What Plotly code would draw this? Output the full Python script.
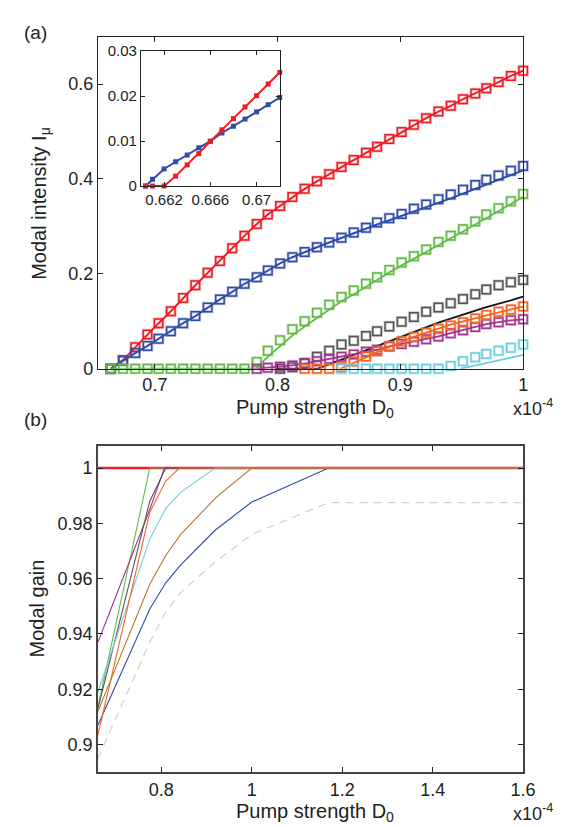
import plotly.graph_objects as go

W, H = 577, 827

# ---------------- panel (a): modal intensities ----------------
XA = [0.664, 0.674, 0.684, 0.694, 0.703, 0.713, 0.723, 0.733, 0.743, 0.753,
      0.763, 0.773, 0.783, 0.792, 0.802, 0.812, 0.822, 0.832, 0.842, 0.852,
      0.862, 0.872, 0.881, 0.891, 0.901, 0.911, 0.921, 0.931, 0.941, 0.951,
      0.961, 0.970, 0.980, 0.990, 1.000]

RED_M = [0, 0.018, 0.045, 0.072, 0.096, 0.121, 0.149, 0.176, 0.202, 0.227,
         0.254, 0.280, 0.305, 0.325, 0.343, 0.362, 0.379, 0.395, 0.410, 0.425,
         0.440, 0.455, 0.468, 0.484, 0.499, 0.514, 0.528, 0.542, 0.554, 0.568,
         0.580, 0.591, 0.604, 0.617, 0.628]
BLUE_M = [0, 0.017, 0.033, 0.048, 0.063, 0.079, 0.096, 0.111, 0.129, 0.146,
          0.162, 0.179, 0.193, 0.207, 0.222, 0.235, 0.246, 0.256, 0.266, 0.276,
          0.287, 0.297, 0.308, 0.317, 0.326, 0.337, 0.346, 0.357, 0.367, 0.377,
          0.387, 0.398, 0.407, 0.417, 0.427]
BLUE_L = [0, 0.017, 0.033, 0.048, 0.063, 0.079, 0.096, 0.111, 0.129, 0.146,
          0.162, 0.179, 0.193, 0.207, 0.222, 0.235, 0.246, 0.256, 0.266, 0.276,
          0.286, 0.295, 0.304, 0.313, 0.322, 0.331, 0.340, 0.350, 0.359, 0.369,
          0.379, 0.389, 0.398, 0.408, 0.418]
GREEN_M = [0, 0, 0, 0, 0, 0, 0, 0, 0, 0, 0, 0,
           0.014, 0.038, 0.060, 0.083, 0.100, 0.118, 0.135, 0.151, 0.165, 0.179,
           0.193, 0.208, 0.224, 0.237, 0.251, 0.267, 0.280, 0.294, 0.310, 0.325,
           0.338, 0.353, 0.368]
GREEN_LX = [0.664, 0.782, 0.792, 0.802, 0.812, 0.822, 0.832, 0.842, 0.852, 0.862,
            0.872, 0.881, 0.891, 0.901, 0.911, 0.921, 0.931, 0.941, 0.951, 0.961,
            0.970, 0.980, 0.990, 1.000]
GREEN_L = [0, 0, 0.025, 0.048, 0.070, 0.089, 0.107, 0.125, 0.142, 0.157,
           0.172, 0.187, 0.203, 0.218, 0.232, 0.246, 0.261, 0.275, 0.289, 0.304,
           0.318, 0.333, 0.348, 0.362]
MAG_M = [None] * 12 + [0, 0.002, 0.004, 0.007, 0.011, 0.016, 0.021, 0.025, 0.030,
                       0.036, 0.040, 0.047, 0.052, 0.057, 0.062, 0.068, 0.075,
                       0.081, 0.088, 0.094, 0.098, 0.102, 0.104]
GRAY_M = [None] * 14 + [0, 0.003, 0.012, 0.025, 0.038, 0.051, 0.059, 0.069, 0.079,
                        0.089, 0.099, 0.109, 0.120, 0.129, 0.138, 0.147, 0.157,
                        0.167, 0.176, 0.182, 0.187]
ORANGE_M = [None] * 16 + [0, 0, 0, 0.003, 0.015, 0.026, 0.037, 0.048, 0.058, 0.067,
                          0.076, 0.084, 0.091, 0.098, 0.106, 0.113, 0.120, 0.125,
                          0.131]
CYAN_M = [None] * 19 + [0, 0, 0, 0, 0, 0, 0, 0, 0, 0.006, 0.016, 0.024, 0.031,
                        0.038, 0.044, 0.051]

BLACK_LX = [0.800, 0.8325, 0.852, 0.872, 0.891, 0.911, 0.931, 0.951, 0.970, 0.990, 1.000]
BLACK_L = [0, 0, 0.019, 0.039, 0.058, 0.077, 0.097, 0.114, 0.130, 0.144, 0.152]
ORANGE_LX = [0.851, 0.862, 0.872, 0.881, 0.891, 0.901, 0.911, 0.921, 0.931, 0.941,
             0.951, 0.961, 0.970, 0.980, 0.990, 1.000]
ORANGE_L = [0, 0.012, 0.024, 0.035, 0.046, 0.057, 0.067, 0.076, 0.085, 0.093,
            0.100, 0.107, 0.113, 0.119, 0.125, 0.131]
CYAN_LX = [0.949, 1.000]
CYAN_L = [0, 0.029]

# inset
X_IN = [0.6604, 0.661, 0.662, 0.663, 0.664, 0.665, 0.666, 0.667, 0.668, 0.669,
        0.670, 0.671, 0.672]
BLUE_IN = [0, 0.0015, 0.0038, 0.0054, 0.0069, 0.0085, 0.0100, 0.0118, 0.0133,
           0.0149, 0.0165, 0.0181, 0.0197]
RED_IN = [0, 0, 0, 0.0022, 0.0047, 0.0072, 0.0099, 0.0125, 0.0150, 0.0176,
          0.0201, 0.0227, 0.0253]

# ---------------- panel (b): modal gain ----------------
G_RED_X = [0.66, 1.6];                                   G_RED = [1, 1]
G_GREEN_X = [0.66, 0.7746, 1.6];                         G_GREEN = [0.9136, 1, 1]
G_MAG_X = [0.66, 0.7746, 0.807, 1.6];                    G_MAG = [0.937, 0.985, 1, 1]
G_GRAY_X = [0.66, 0.7746, 0.81, 1.6];                    G_GRAY = [0.913, 0.988, 1, 1]
G_ORANGE_X = [0.66, 0.7746, 0.81, 0.84, 1.6];            G_ORANGE = [0.9035, 0.984, 0.9953, 1, 1]
G_CYAN_X = [0.66, 0.7746, 0.81, 0.843, 0.919, 1.6];      G_CYAN = [0.919, 0.9743, 0.9854, 0.9912, 1, 1]
G_BROWN_X = [0.66, 0.7746, 0.81, 0.843, 0.922, 1.0, 1.6]; G_BROWN = [0.912, 0.958, 0.9684, 0.976, 0.9895, 1, 1]
G_BLUE_X = [0.66, 0.7746, 0.81, 0.843, 0.919, 1.0, 1.17, 1.6]
G_BLUE = [0.907, 0.949, 0.9585, 0.965, 0.9775, 0.9877, 1, 1]
G_DASH_X = [0.66, 0.7746, 0.81, 0.843, 0.919, 1.0, 1.17, 1.6]
G_DASH = [0.895, 0.937, 0.948, 0.955, 0.966, 0.976, 0.9875, 0.9875]

# colours
C_RED = "#ee1c25"
C_BLUE = "#2e4da6"
C_GREEN = "#62bb46"
C_GRAY = "#555555"
C_ORANGE = "#f26522"
C_MAG = "#a2368f"
C_CYAN = "#6dcde0"
C_BROWN = "#b8732e"
C_DASH = "#d2d2ca"

FONT = "Liberation Sans, Arial, Helvetica, sans-serif"

fig = go.Figure()


def halo(c):
    c = c.lstrip("#")
    r, g, b = int(c[0:2], 16), int(c[2:4], 16), int(c[4:6], 16)
    return f"rgba({r},{g},{b},0.3)"


def add_markers(x, y, color):
    fig.add_trace(go.Scatter(x=x, y=y, mode="markers", xaxis="x", yaxis="y",
                             cliponaxis=False, hoverinfo="skip",
                             marker=dict(symbol="square-open", size=8.5, color=halo(color),
                                         line=dict(width=3.0, color=halo(color)))))
    fig.add_trace(go.Scatter(x=x, y=y, mode="markers", xaxis="x", yaxis="y",
                             cliponaxis=False,
                             marker=dict(symbol="square-open", size=8.5, color=color,
                                         line=dict(width=1.5, color=color))))


def add_line(x, y, color, width=1.8, xa="x", ya="y", dash="solid"):
    fig.add_trace(go.Scatter(x=x, y=y, mode="lines", xaxis=xa, yaxis=ya,
                             cliponaxis=False,
                             line=dict(color=color, width=width, dash=dash)))


# panel (a)
add_markers(XA, RED_M, C_RED)
add_line(XA, RED_M, C_RED, 2)
add_markers(XA, BLUE_M, C_BLUE)
add_line(XA, BLUE_L, C_BLUE, 2)
add_markers(XA, GREEN_M, C_GREEN)
add_line(GREEN_LX, GREEN_L, C_GREEN, 1.8)
add_markers(XA, GRAY_M, C_GRAY)
add_line(BLACK_LX, BLACK_L, "#111111", 1.8)
add_markers(XA, MAG_M, C_MAG)
add_line(XA[12:], MAG_M[12:], C_MAG, 1.8)
add_markers(XA, ORANGE_M, C_ORANGE)
add_line(ORANGE_LX, ORANGE_L, C_ORANGE, 1.8)
add_markers(XA, CYAN_M, C_CYAN)
add_line(CYAN_LX, CYAN_L, C_CYAN, 1.8)

# inset
for yv, c in ((BLUE_IN, C_BLUE), (RED_IN, C_RED)):
    fig.add_trace(go.Scatter(x=X_IN, y=yv, mode="lines+markers", xaxis="x2", yaxis="y2",
                             cliponaxis=False,
                             line=dict(color=c, width=2),
                             marker=dict(symbol="square", size=5, color=c)))

# panel (b)
add_line(G_RED_X, G_RED, C_RED, 2.6, "x3", "y3")
add_line(G_DASH_X, G_DASH, C_DASH, 1.3, "x3", "y3", dash="8px,6px")
add_line(G_BLUE_X, G_BLUE, C_BLUE, 1.1, "x3", "y3")
add_line(G_GREEN_X, G_GREEN, C_GREEN, 1.1, "x3", "y3")
add_line(G_MAG_X, G_MAG, C_MAG, 1.1, "x3", "y3")
add_line(G_GRAY_X, G_GRAY, C_GRAY, 1.1, "x3", "y3")
add_line(G_CYAN_X, G_CYAN, C_CYAN, 1.1, "x3", "y3")
add_line(G_ORANGE_X, G_ORANGE, C_ORANGE, 1.1, "x3", "y3")
add_line(G_BROWN_X, G_BROWN, C_BROWN, 1.1, "x3", "y3")


def dx(a, b):
    return [a / W, b / W]


def dy(top, bottom):
    return [1 - bottom / H, 1 - top / H]


axis_common = dict(showline=True, linecolor="#222222", linewidth=1.1, mirror="ticks",
                   ticks="inside", ticklen=5, tickcolor="#222222", tickwidth=1,
                   showgrid=False, zeroline=False,
                   tickfont=dict(family=FONT, size=18, color="#222222"))

fig.update_layout(
    width=W, height=H, margin=dict(l=0, r=0, t=0, b=0),
    paper_bgcolor="white", plot_bgcolor="white", showlegend=False,
    font=dict(family=FONT, color="#222222"),
    xaxis=dict(domain=dx(92, 527), range=[0.6536, 1.0], anchor="y",
               tickvals=[0.7, 0.8, 0.9, 1.0], ticktext=["0.7", "0.8", "0.9", "1"],
               **axis_common),
    yaxis=dict(domain=dy(20, 360), range=[0, 0.7], anchor="x",
               tickvals=[0, 0.2, 0.4, 0.6], ticktext=["0", "0.2", "0.4", "0.6"],
               **axis_common),
    xaxis2=dict(domain=dx(136, 278), range=[0.66, 0.672], anchor="y2",
                tickvals=[0.662, 0.666, 0.67], ticktext=["0.662", "0.666", "0.67"],
                **{**axis_common, "tickfont": dict(family=FONT, size=15, color="#222222"),
                   "ticklen": 4}),
    yaxis2=dict(domain=dy(35, 173), range=[0, 0.03], anchor="x2",
                tickvals=[0, 0.01, 0.02, 0.03], ticktext=["0", "0.01", "0.02", "0.03"],
                **{**axis_common, "tickfont": dict(family=FONT, size=15, color="#222222"),
                   "ticklen": 4}),
    xaxis3=dict(domain=dx(92, 527), range=[0.66, 1.6], anchor="y3",
                tickvals=[0.8, 1.0, 1.2, 1.4, 1.6], ticktext=["0.8", "1", "1.2", "1.4", "1.6"],
                **{**axis_common, "linecolor": "#444444", "linewidth": 1.8}),
    yaxis3=dict(domain=dy(439, 773), range=[0.89, 1.008], anchor="x3",
                tickvals=[0.9, 0.92, 0.94, 0.96, 0.98, 1.0],
                ticktext=["0.9", "0.92", "0.94", "0.96", "0.98", "1"],
                **{**axis_common, "linecolor": "#444444", "linewidth": 1.8}),
)

ann = []


def text(x, y, t, size=21, angle=0, xanchor="center"):
    ann.append(dict(x=x / W, y=1 - y / H, xref="paper", yref="paper", text=t,
                    showarrow=False, textangle=angle, xanchor=xanchor, yanchor="middle",
                    font=dict(family=FONT, size=size, color="#222222")))


text(28, 16, "(a)", 19)
text(28, 412, "(b)", 19)
text(33, 191, "Modal intensity I<sub>μ</sub>", 20, -90)
text(30, 605, "Modal gain", 20, -90)
text(314, 401, "Pump strength D<sub>0</sub>", 20)
text(314, 814, "Pump strength D<sub>0</sub>", 20)
text(537, 400, "x10<sup>-4</sup>", 18)
text(537, 814, "x10<sup>-4</sup>", 18)
fig.update_layout(annotations=ann)

fig.write_html("out.html")
